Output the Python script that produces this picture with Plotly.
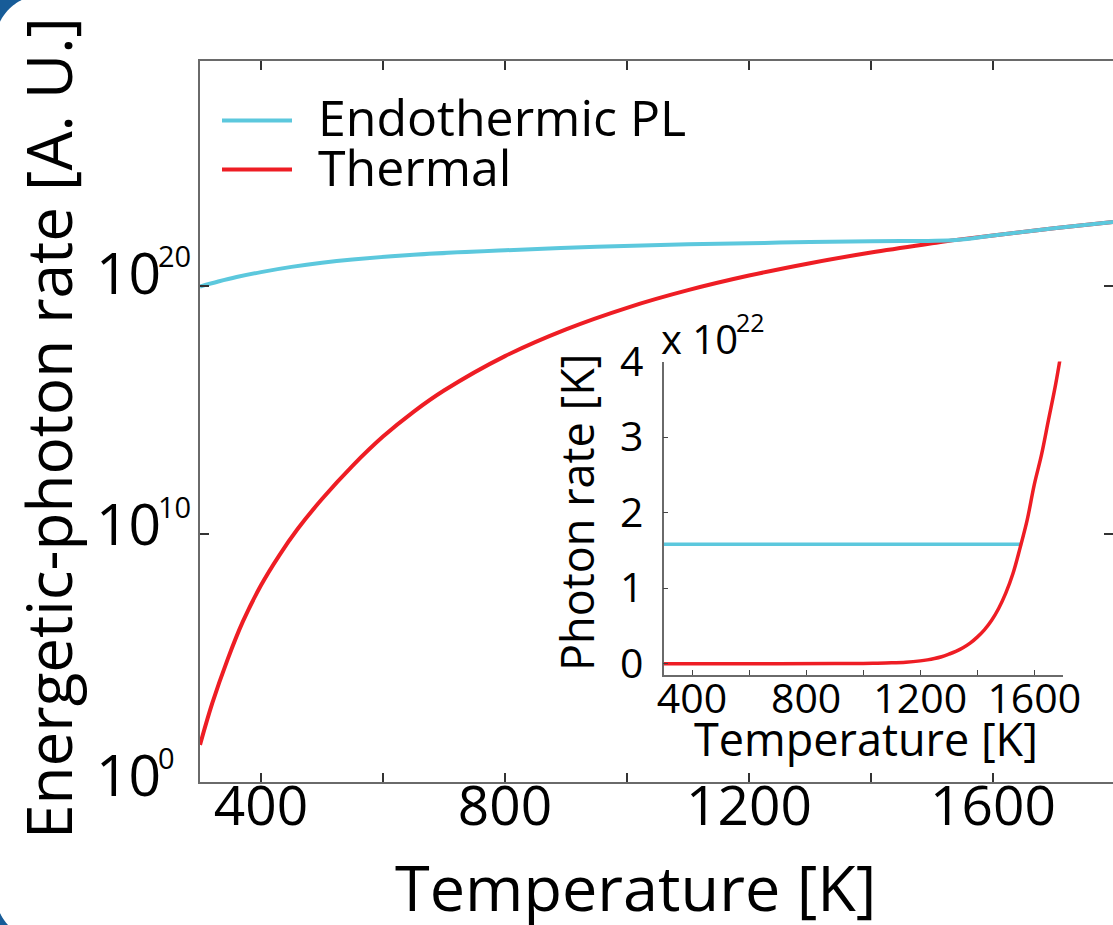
import numpy as np
import plotly.graph_objects as go

# ---------------- data ----------------
series_names = ["Endothermic PL", "Thermal"]
series_colors = ["#5CC8DD", "#EE1D24"]

# main panel: log10 of the energetic-photon rate
temp_thermal = [300, 320, 345, 370, 400, 430, 460, 500, 550, 600, 650, 700, 800, 900, 1000,
                1100, 1200, 1300, 1400, 1500, 1540, 1600, 1700, 1800]
log_thermal = [1.5, 3.17, 4.93, 6.46, 7.94, 9.15, 10.21, 11.42, 12.76, 13.94, 14.94, 15.8, 17.19,
               18.27, 19.14, 19.85, 20.44, 20.94, 21.37, 21.74, 21.88, 22.06, 22.35, 22.61]
temp_pl = [300, 330, 360, 400, 450, 500, 550, 650, 800, 950, 1100, 1250, 1400, 1540,
           1600, 1700, 1800]
log_pl = [20.0, 20.2, 20.38, 20.58, 20.79, 20.96, 21.09, 21.28, 21.46, 21.6, 21.7, 21.77, 21.83,
          21.88, 22.06, 22.35, 22.61]

main_xticks = [400, 800, 1200, 1600]
main_yticks_exp = [0, 10, 20]

# inset: photon rate in units of 1e22
temp_inset_thermal = [300, 700, 900, 1000, 1050, 1100, 1150, 1200, 1225, 1250, 1275, 1300, 1325,
                      1350, 1375, 1400, 1425, 1450, 1475, 1500, 1525, 1550, 1575, 1600, 1625,
                      1650, 1675, 1700]
rate_inset_thermal = [0, 0, 0.001, 0.003, 0.0056, 0.0106, 0.0198, 0.037, 0.05, 0.068, 0.092,
                      0.125, 0.162, 0.21, 0.271, 0.351, 0.448, 0.572, 0.731, 0.934, 1.19, 1.53,
                      1.9, 2.37, 2.76, 3.23, 3.7, 4.25]
temp_inset_pl = [300, 1553]
rate_inset_pl = [1.58, 1.58]

inset_xticks = [400, 800, 1200, 1600]
inset_yticks = [0, 1, 2, 3, 4]
inset_multiplier_exp = 22

FONT = "Open Sans"
AXIS_GREY = "#6a6a6a"

# ---------------- geometry (pixels) ----------------
W, H = 1113, 925
L, R, T, B = 200, 1113, 61, 782


def fx(px):
    return (px - L) / (R - L)


def fy(py):
    return (B - py) / (B - T)


fig = go.Figure()

# main curves (thermal underneath, PL on top)
fig.add_trace(go.Scatter(x=temp_thermal, y=[10.0 ** v for v in log_thermal], mode="lines",
                         line=dict(color=series_colors[1], width=4, shape="spline", smoothing=1.0),
                         name=series_names[1], showlegend=False, xaxis="x", yaxis="y"))
fig.add_trace(go.Scatter(x=temp_pl, y=[10.0 ** v for v in log_pl], mode="lines",
                         line=dict(color=series_colors[0], width=4, shape="spline", smoothing=1.0),
                         name=series_names[0], showlegend=False, xaxis="x", yaxis="y"))

# inset curves
fig.add_trace(go.Scatter(x=temp_inset_pl, y=rate_inset_pl, mode="lines",
                         line=dict(color=series_colors[0], width=3.5),
                         showlegend=False, xaxis="x2", yaxis="y2"))
fig.add_trace(go.Scatter(x=temp_inset_thermal, y=rate_inset_thermal, mode="lines",
                         line=dict(color=series_colors[1], width=3.5, shape="spline", smoothing=1.0),
                         showlegend=False, xaxis="x2", yaxis="y2"))

tick_font = dict(family=FONT, size=55, color="black")
inset_font = dict(family=FONT, size=41, color="black")

fig.update_layout(
    width=W, height=H,
    margin=dict(l=L, r=W - R, t=T, b=H - B, pad=0, autoexpand=False),
    paper_bgcolor="white", plot_bgcolor="white",
    showlegend=False,
    xaxis=dict(range=[300, 1796.7], tickvals=main_xticks,
               ticks="inside", ticklen=9, tickwidth=1.5, tickcolor="#333",
               minor=dict(ticks="inside", ticklen=9, tickwidth=1.5, tickcolor="#333",
                          tick0=400, dtick=200, showgrid=False),
               showline=True, linecolor=AXIS_GREY, linewidth=2, mirror="ticks",
               showgrid=False, zeroline=False, tickfont=tick_font, automargin=False,
               ticklabelstandoff=-25),
    yaxis=dict(type="log", range=[0, 29.1], tickvals=[10.0 ** e for e in main_yticks_exp],
               showticklabels=False, automargin=False,
               ticks="inside", ticklen=9, tickwidth=1.5, tickcolor="#333",
               showline=True, linecolor=AXIS_GREY, linewidth=2, mirror="ticks",
               showgrid=False, zeroline=False),
    xaxis2=dict(domain=[fx(663.5), fx(1062.8)], anchor="y2", range=[300, 1700],
                tickvals=inset_xticks,
                ticks="inside", ticklen=5, tickwidth=1.2, tickcolor="#444",
                minor=dict(ticks="inside", ticklen=5, tickwidth=1.2, tickcolor="#444",
                           tick0=400, dtick=200, showgrid=False),
                showline=True, linecolor=AXIS_GREY, linewidth=1.5, automargin=False,
                showgrid=False, zeroline=False, tickfont=inset_font, ticklabelstandoff=-13),
    yaxis2=dict(domain=[fy(675), fy(361.5)], anchor="x2", range=[-0.15, 4.0],
                tickvals=inset_yticks, ticks="inside", ticklen=5, tickwidth=1.2, tickcolor="#444",
                showline=True, linecolor=AXIS_GREY, linewidth=1.5, automargin=False,
                showgrid=False, zeroline=False, tickfont=inset_font, ticklabelstandoff=10),
)

annotations = []
# y tick labels of the main panel: left-aligned mantissa with a small raised exponent
label_lift = {0: 6, 10: 9, 20: 12}
for e in main_yticks_exp:
    annotations.append(dict(text="10", x=fx(94), y=e, xref="paper", yref="y",
                            xanchor="left", yanchor="middle", showarrow=False,
                            yshift=label_lift[e] + 2,
                            font=dict(family=FONT, size=57, color="black")))
    annotations.append(dict(text=str(e), x=fx(156), y=e, xref="paper", yref="y",
                            xanchor="left", yanchor="middle", showarrow=False,
                            yshift=label_lift[e] + 19,
                            font=dict(family=FONT, size=29, color="black")))
# axis titles
annotations.append(dict(text="Temperature [K]", x=fx(635), y=fy(886), xref="paper", yref="paper",
                        xanchor="center", yanchor="middle", showarrow=False,
                        font=dict(family=FONT, size=63, color="black")))
annotations.append(dict(text="Energetic-photon rate [A. U.]", x=fx(48), y=fy(428),
                        xref="paper", yref="paper", textangle=-90,
                        xanchor="center", yanchor="middle", showarrow=False,
                        font=dict(family=FONT, size=62, color="black")))
# inset titles and multiplier
annotations.append(dict(text="Temperature [K]", x=fx(866), y=fy(738), xref="paper", yref="paper",
                        xanchor="center", yanchor="middle", showarrow=False,
                        font=dict(family=FONT, size=45, color="black")))
annotations.append(dict(text="Photon rate [K]", x=fx(577), y=fy(512), xref="paper", yref="paper",
                        textangle=-90, xanchor="center", yanchor="middle", showarrow=False,
                        font=dict(family=FONT, size=45, color="black")))
annotations.append(dict(text="x 10", x=fx(659), y=fy(338), xref="paper", yref="paper",
                        xanchor="left", yanchor="middle", showarrow=False,
                        font=dict(family=FONT, size=40, color="black")))
annotations.append(dict(text=str(inset_multiplier_exp), x=fx(734), y=fy(322),
                        xref="paper", yref="paper", xanchor="left", yanchor="middle",
                        showarrow=False, font=dict(family=FONT, size=25, color="black")))

# legend
shapes = []
legend_rows = [120.5, 169.5]
for name, color, row in zip(series_names, series_colors, legend_rows):
    shapes.append(dict(type="line", xref="paper", yref="paper",
                       x0=fx(222), x1=fx(292), y0=fy(row), y1=fy(row),
                       line=dict(color=color, width=4)))
    annotations.append(dict(text=name, x=fx(316), y=fy(row - 3), xref="paper", yref="paper",
                            xanchor="left", yanchor="middle", showarrow=False,
                            font=dict(family=FONT, size=50, color="black")))


# rounded blue page-frame corners
def corner_path(cx, cy, r, a0, a1, extra):
    ang = np.linspace(a0, a1, 40)
    pts = [(cx + r * np.cos(a), cy + r * np.sin(a)) for a in ang] + extra
    return "M " + " L ".join(f"{fx(px):.5f},{fy(py):.5f}" for px, py in pts) + " Z"


frame_blue = "#175C98"
shapes.append(dict(type="path", xref="paper", yref="paper", layer="above",
                   path=corner_path(43, 43, 48, np.arctan2(-43, -21.3 + 3.0),
                                    np.arctan2(-21.3 + 3.0, -43), [(-5, 18), (-5, -5), (25, -5)]),
                   fillcolor=frame_blue, line=dict(width=0)))
shapes.append(dict(type="path", xref="paper", yref="paper", layer="above",
                   path=corner_path(43.5, 892.7, 48, np.arctan2(913 - 892.7 - 2, -43.5),
                                    np.arctan2(925 - 892.7 + 3, 8 - 43.5 + 2),
                                    [(6, 930), (-5, 930), (-5, 910)]),
                   fillcolor=frame_blue, line=dict(width=0)))

fig.update_layout(annotations=annotations, shapes=shapes)

# fixed-size page: no resize handling and no scrollbars
fig.write_html("out.html", config={"responsive": False},
               post_script="document.documentElement.style.overflow='hidden';"
                           "document.body.style.overflow='hidden';")
